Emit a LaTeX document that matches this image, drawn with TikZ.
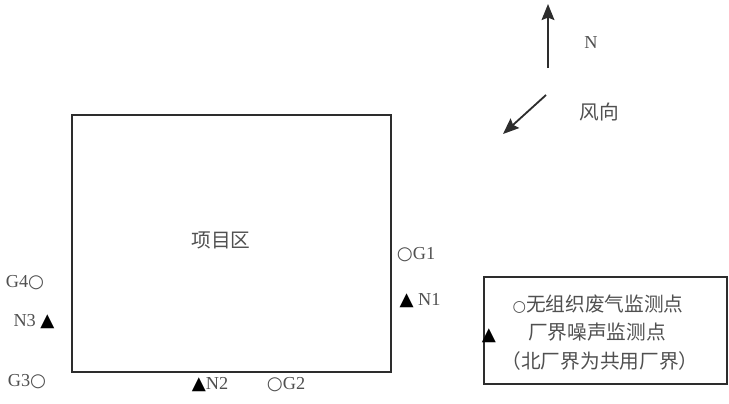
\documentclass[tikz,border=0pt]{standalone}
\usepackage{fontspec}
\setmainfont{Liberation Serif}
\newfontfamily\cjk{Noto Sans CJK SC}
\newfontfamily\symfont{DejaVu Sans}
\usetikzlibrary{arrows.meta}
\definecolor{linecolor}{RGB}{45,45,45}
\definecolor{textcolor}{RGB}{80,80,80}
\newcommand{\ring}{{\symfont\fontsize{13}{14}\selectfont ○}}
\newcommand{\tri}{{\symfont\fontsize{13}{14}\selectfont\color{black}▲}}

\begin{document}
\begin{tikzpicture}[
    x=0.025cm, y=-0.025cm,
    lbl/.style={text=textcolor, font=\fontsize{13}{15}\selectfont, inner sep=1pt},
    zh/.style={text=textcolor, font=\cjk\fontsize{14}{17}\selectfont, inner sep=1pt},
    frame/.style={draw=linecolor, line width=1.2pt},
    arrow/.style={-{Stealth[length=4mm, width=3.2mm, inset=0.6mm]}, draw=linecolor, line width=1.3pt}
]
    \useasboundingbox (0,0) rectangle (729,403);

    % North and wind direction
    \coordinate (nfoot) at (548,68);
    \coordinate (nhead) at (548,4);
    \draw[arrow] (nfoot) -- (nhead);
    \node[lbl] (north) at (591,43) {N};
    \coordinate (wfoot) at (546,95);
    \coordinate (whead) at (503,134);
    \draw[arrow] (wfoot) -- (whead);
    \node[zh] (wind) at (599,112) {风向};

    % Project area
    \draw[frame] (72,115) rectangle (391,372);
    \node[zh] (area) at (221,240) {项目区};

    % Monitoring points
    \node[lbl] (g1) at (416,255) {\ring G1};
    \node[lbl] (n1) at (420,301) {\tri\ N1};
    \node[lbl] (g4) at (25,283) {G4\ring};
    \node[lbl] (n3) at (34,322) {N3\ \tri};
    \node[lbl] (g3) at (27,382) {G3\ring};
    \node[lbl] (n2) at (210,385) {\tri N2};
    \node[lbl] (g2) at (286,385) {\ring G2};

    % Legend
    \draw[frame, line width=1pt] (484,277) rectangle (727,384);
    \node[zh] (leg1) at (598,304) {{\symfont\fontsize{11}{12}\selectfont ○}无组织废气监测点};
    \node[zh] (leg2) at (597,332) {厂界噪声监测点};
    \node[zh] (leg3) at (600,361) {（北厂界为共用厂界）};
    \node[inner sep=0pt] (legtri) at (489,336) {\tri};
\end{tikzpicture}
\end{document}
